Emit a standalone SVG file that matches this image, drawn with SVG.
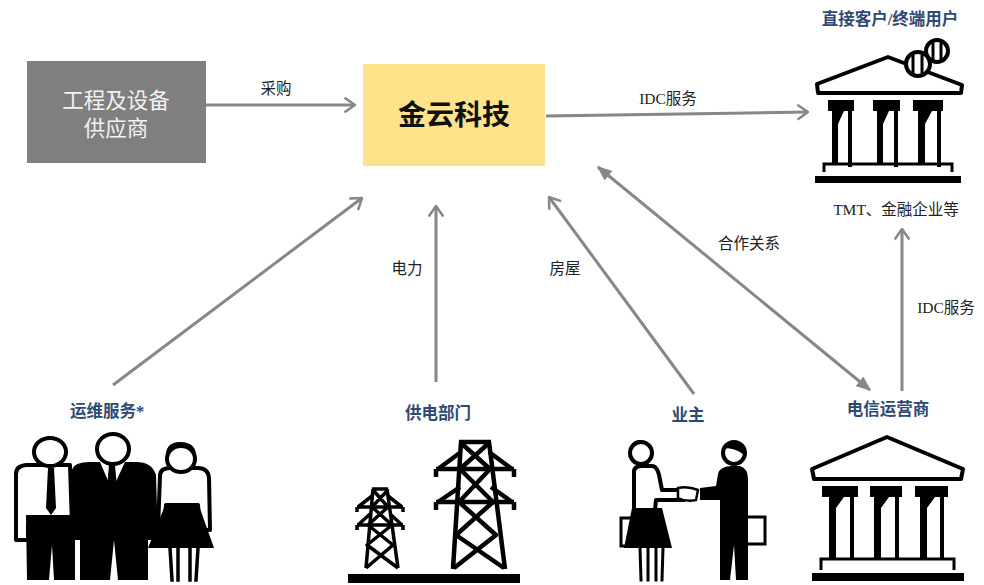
<svg xmlns="http://www.w3.org/2000/svg" width="984" height="585" viewBox="0 0 984 585">
  <style>
    .conn { stroke: #878787; stroke-width: 3; fill: none; }
    .lbl { font-family: "Liberation Serif", "Noto Sans CJK SC", serif; font-size: 15.5px; fill: #222; }
    .title { font-family: "Liberation Serif", "Noto Sans CJK SC", serif; font-size: 16.5px; font-weight: bold; fill: #2e4a72; }
    .ink { fill: #000; }
    .out { fill: #fff; stroke: #000; stroke-width: 4; stroke-linejoin: round; }
    .bar { stroke: #000; fill: none; stroke-linecap: square; }
  </style>
  <defs>
    <marker id="open" viewBox="0 0 12 16" refX="11" refY="8" markerWidth="4.3" markerHeight="5.6" orient="auto" markerUnits="strokeWidth">
      <path d="M1,1 L11,8 L1,15" fill="none" stroke="#878787" stroke-width="2.4" stroke-linejoin="miter"/>
    </marker>
    <marker id="solid" viewBox="0 0 12 10" refX="11" refY="5" markerWidth="5" markerHeight="4.2" orient="auto-start-reverse" markerUnits="strokeWidth">
      <path d="M0,0 L12,5 L0,10 Z" fill="#878787"/>
    </marker>
  </defs>

  <rect width="984" height="585" fill="#fff"/>

  <!-- connectors -->
  <g id="connectors">
    <line class="conn" x1="206" y1="105" x2="355" y2="105" marker-end="url(#open)"/>
    <line class="conn" x1="546" y1="116" x2="808" y2="112" marker-end="url(#open)"/>
    <line class="conn" x1="113" y1="385" x2="362" y2="198" marker-end="url(#open)"/>
    <line class="conn" x1="436" y1="382" x2="436" y2="206" marker-end="url(#open)"/>
    <line class="conn" x1="694" y1="394" x2="549" y2="197" marker-end="url(#open)"/>
    <line class="conn" x1="598" y1="167" x2="870" y2="390" marker-start="url(#solid)" marker-end="url(#solid)"/>
    <line class="conn" x1="902" y1="391" x2="902" y2="229" marker-end="url(#open)"/>
    <text class="lbl" x="276" y="94" text-anchor="middle">采购</text>
    <text class="lbl" x="668" y="104" text-anchor="middle">IDC服务</text>
    <text class="lbl" x="407" y="274" text-anchor="middle">电力</text>
    <text class="lbl" x="565" y="274" text-anchor="middle">房屋</text>
    <text class="lbl" x="749" y="249" text-anchor="middle">合作关系</text>
    <text class="lbl" x="946" y="313" text-anchor="middle">IDC服务</text>
  </g>

  <!-- supplier -->
  <g id="supplier">
    <rect x="27" y="61" width="179" height="102" fill="#7f7f7f"/>
    <text x="116" y="108" text-anchor="middle" font-family="Liberation Serif, Noto Sans CJK SC, serif" font-size="21.5" fill="#f2f2f2">工程及设备</text>
    <text x="116" y="136" text-anchor="middle" font-family="Liberation Serif, Noto Sans CJK SC, serif" font-size="21.5" fill="#f2f2f2">供应商</text>
  </g>

  <!-- company -->
  <g id="jinyun">
    <rect x="363" y="64" width="182" height="102" fill="#fee38b"/>
    <text x="454" y="125" text-anchor="middle" font-family="Liberation Serif, Noto Sans CJK SC, serif" font-size="28" font-weight="bold" fill="#111">金云科技</text>
  </g>

  <!-- direct customers -->
  <g id="customers">
    <text class="title" x="890" y="25" text-anchor="middle">直接客户/终端用户</text>
    <!-- roof -->
    <path d="M817,84 L888,57 L962,85 L961,93 L818,93 Z" class="out" stroke-width="5"/>
    <!-- coins resting on the roof -->
    <circle cx="937" cy="51" r="11" class="out" stroke-width="3.5"/>
    <path d="M933,44 L933,58 M941,44 L941,58" class="bar" stroke-width="3"/>
    <circle cx="918" cy="64" r="12" class="out" stroke-width="3.5"/>
    <path d="M913,56 L913,72 M922,56 L922,72" class="bar" stroke-width="3"/>
    <!-- capitals -->
    <rect x="828" y="100" width="26" height="11" class="ink"/>
    <rect x="873" y="100" width="27" height="11" class="ink"/>
    <rect x="913" y="100" width="30" height="11" class="ink"/>
    <!-- columns -->
    <g class="ink">
      <path d="M832,111 L844,111 L838,124 L838,165 L832,165 Z"/>
      <path d="M877,111 L889,111 L883,124 L883,165 L877,165 Z"/>
      <path d="M918,111 L932,111 L925,124 L925,165 L918,165 Z"/>
    </g>
    <path d="M850,111 L850,165 M896,111 L896,165 M939,111 L939,165" class="bar" stroke-width="4"/>
    <path d="M824,172 L824,164 L952,164 L952,172" fill="none" stroke="#000" stroke-width="3"/>
    <rect x="815" y="176" width="146" height="7" class="ink"/>
    <text class="lbl" x="896" y="215" text-anchor="middle" font-size="16">TMT、金融企业等</text>
  </g>

  <!-- operations staff -->
  <g id="operations">
    <text class="title" x="107" y="417" text-anchor="middle">运维服务*</text>
    <!-- left man -->
    <path d="M16,474 Q16,466 26,465 L70,465 L72,525 L28,525 L28,540 L16,540 Z" class="out"/>
    <path d="M48,468 L54,468 L56,508 L51,515 L46,508 Z" class="ink"/>
    <path d="M26,515 L75,515 L75,580 L54,580 L52,545 L49,580 L27,580 Z" class="ink"/>
    <ellipse cx="50" cy="452" rx="16" ry="14" class="out"/>
    <!-- middle man -->
    <path d="M72,470 Q74,462 90,462 L136,462 Q152,462 156,475 L158,540 L148,540 L148,580 L118,580 L114,540 L110,580 L80,580 L80,540 L72,540 Z" class="ink"/>
    <path d="M100,462 L112,490 L125,462 Z" fill="#fff"/>
    <path d="M109,465 L115,465 L117,488 L112,494 L107,488 Z" class="ink"/>
    <ellipse cx="113" cy="449" rx="16" ry="15" class="out"/>
    <!-- woman -->
    <path d="M160,476 Q160,468 170,468 L198,468 Q208,468 209,478 L210,530 L200,530 L198,505 L166,505 L164,530 L158,530 Z" class="out"/>
    <path d="M166,503 L198,503 L214,548 L148,548 Z" class="ink"/>
    <path d="M170,548 L172,580 M178,548 L178,580 M190,548 L190,580 M198,548 L196,580" class="bar" stroke-width="3.5"/>
    <path d="M166,460 Q164,442 180,442 Q198,442 196,460 Q190,450 180,451 Q170,450 166,460 Z" class="ink"/>
    <ellipse cx="181" cy="459" rx="14" ry="13" class="out" fill="none"/>
  </g>

  <!-- power supplier -->
  <g id="power">
    <text class="title" x="438" y="419" text-anchor="middle">供电部门</text>
    <!-- small tower -->
    <g fill="none" stroke="#000" stroke-width="3.5" stroke-linejoin="round">
      <path d="M372,489 L388,489 M373,489 L366,568 M387,489 L398,568"/>
      <path d="M357,507 L403,507 M357,525 L403,525 M357,507 L357,512 M403,507 L403,512 M357,525 L357,530 M403,525 L403,530"/>
      <path d="M372,496 L358,507 M388,496 L402,507 M370,514 L358,525 M390,514 L402,525"/>
      <path d="M373,490 L388,507 L368,525 L393,545 L366,568 M388,490 L372,507 L392,525 L367,545 L398,568"/>
    </g>
    <!-- large tower -->
    <g fill="none" stroke="#000" stroke-width="4.5" stroke-linejoin="round">
      <path d="M459,442 L491,442 M461,442 L453,569 M489,442 L505,569"/>
      <path d="M436,469 L514,469 M436,502 L514,502 M436,469 L436,477 M514,469 L514,477 M436,502 L436,510 M514,502 L514,510"/>
      <path d="M461,452 L438,469 M489,452 L512,469 M460,487 L438,502 M491,487 L512,502"/>
      <path d="M461,443 L490,469 L459,502 L496,535 L454,568 M489,443 L460,469 L493,502 L456,535 L504,568"/>
    </g>
    <rect x="348" y="574" width="172" height="9" class="ink"/>
  </g>

  <!-- property owner -->
  <g id="owner">
    <text class="title" x="688" y="421" text-anchor="middle">业主</text>
    <!-- woman -->
    <rect x="621" y="518" width="12" height="28" fill="#fff" stroke="#000" stroke-width="3"/>
    <path d="M634,472 Q634,466 642,466 L652,466 Q658,466 660,480 L662,490 L684,490 L684,500 L656,500 L655,510 L634,510 Z" class="out" stroke-width="3.5"/>
    <path d="M632,508 L662,508 L672,548 L624,548 Z" class="ink"/>
    <path d="M640,548 L641,580 M648,548 L648,580 M656,548 L656,580 M663,548 L662,580" class="bar" stroke-width="3"/>
    <path d="M630,452 Q630,440 640,440 Q648,440 650,446 Q640,448 640,462 Q630,462 630,452 Z" class="ink"/>
    <circle cx="641" cy="453" r="11" class="out" fill="none" stroke-width="3.5"/>
    <!-- handshake -->
    <path d="M678,488 Q688,486 698,490 L696,500 Q686,502 678,498 Z" fill="#fff" stroke="#000" stroke-width="2.5"/>
    <!-- man -->
    <path d="M718,474 Q720,466 732,466 L740,466 Q748,468 748,480 L748,580 L736,580 L734,545 L730,580 L720,580 L720,500 L700,500 L700,488 L716,486 Z" class="ink"/>
    <rect x="733" y="517" width="32" height="27" fill="#fff" stroke="#000" stroke-width="3"/>
    <path d="M733,517 L748,517 L748,544 L733,544 Z" class="ink"/>
    <circle cx="734" cy="453" r="11" class="out" stroke-width="3.5"/>
    <path d="M724,448 Q728,440 740,442 Q744,448 744,455 Q736,448 724,448 Z" class="ink"/>
  </g>

  <!-- telecom operators -->
  <g id="telecom">
    <text class="title" x="888" y="415" text-anchor="middle">电信运营商</text>
    <path d="M812,469 L887,437 L963,469 L961,479 L814,479 Z" class="out" stroke-width="5"/>
    <rect x="822" y="486" width="36" height="11" class="ink"/>
    <rect x="870" y="486" width="32" height="11" class="ink"/>
    <rect x="915" y="486" width="33" height="11" class="ink"/>
    <g class="ink">
      <path d="M829,497 L844,497 L836,508 L836,558 L829,558 Z"/>
      <path d="M874,497 L889,497 L881,508 L881,558 L874,558 Z"/>
      <path d="M920,497 L935,497 L927,508 L927,558 L920,558 Z"/>
    </g>
    <path d="M852,497 L852,558 M897,497 L897,558 M942,497 L942,558" class="bar" stroke-width="4"/>
    <path d="M821,570 L821,559 L954,559 L954,570" fill="none" stroke="#000" stroke-width="3"/>
    <rect x="812" y="573" width="152" height="8" class="ink"/>
  </g>
</svg>
